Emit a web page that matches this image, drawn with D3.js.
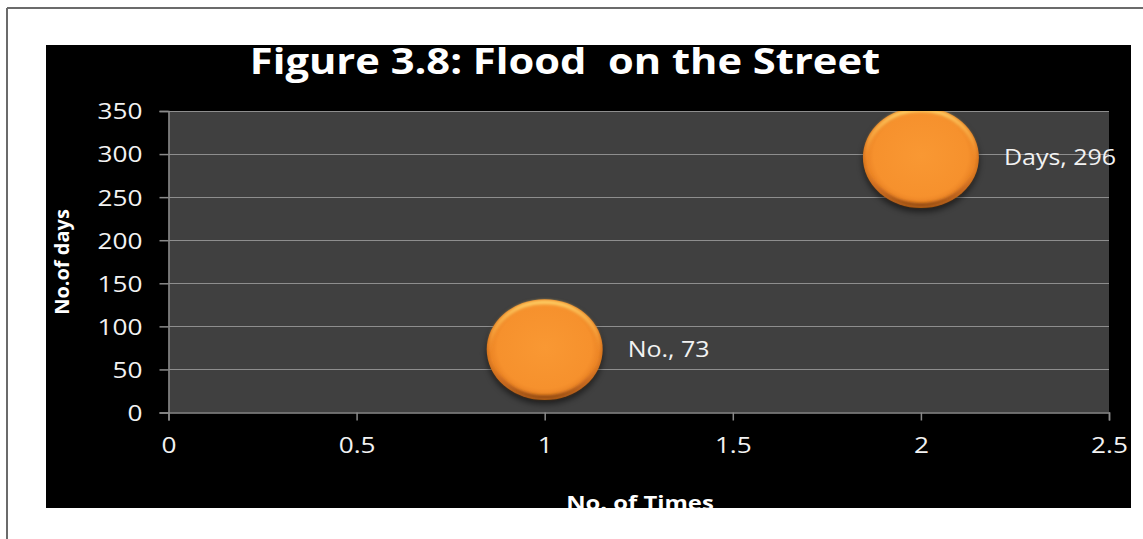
<!DOCTYPE html>
<html>
<head>
<meta charset="utf-8">
<script src="https://cdn.jsdelivr.net/npm/d3@7"></script>
<style>
  html, body { margin: 0; padding: 0; background: #ffffff; }
  svg { display: block; }
  text { white-space: pre; }
</style>
</head>
<body>
<svg id="chart" width="1143" height="539"></svg>
<script>
// Bubble series: x position, y value, bubble size, series name
const seriesNames = ["No.", "Days"];
const xValues = [1, 2];
const yValues = [73, 296];
const bubbleSizes = [1, 1];

const xTicks = [0, 0.5, 1, 1.5, 2, 2.5];
const yTicks = [0, 50, 100, 150, 200, 250, 300, 350];

const titleText = "Figure 3.8: Flood  on the Street";
const xTitle = "No. of Times";
const yTitle = "No.of days";

const svg = d3.select("#chart");
const W = 1143, H = 539;

// page frame
svg.append("line").attr("x1", 7).attr("y1", 8).attr("x2", W).attr("y2", 8)
  .attr("stroke", "#6b6b6b").attr("stroke-width", 2);
svg.append("line").attr("x1", 7).attr("y1", 8).attr("x2", 7).attr("y2", H)
  .attr("stroke", "#6b6b6b").attr("stroke-width", 2);

// chart area
const area = { x: 46, y: 45, w: 1085, h: 463 };
const defs = svg.append("defs");
defs.append("clipPath").attr("id", "areaClip")
  .append("rect").attr("x", area.x).attr("y", area.y).attr("width", area.w).attr("height", area.h);

const chart = svg.append("g").attr("clip-path", "url(#areaClip)");
chart.append("rect").attr("x", area.x).attr("y", area.y)
  .attr("width", area.w).attr("height", area.h).attr("fill", "#000000");

const plot = { left: 168.5, right: 1109, top: 111, bottom: 412.5 };

const x = d3.scaleLinear().domain([0, 2.5]).range([plot.left, plot.right]);
const y = d3.scaleLinear().domain([0, 350]).range([plot.bottom, plot.top]);
const r = d3.scaleSqrt().domain([0, 1]).range([0, 58]);
const ryRatio = 0.87;

// wide text: glyphs are drawn stretched horizontally
const widen = 1.19;
function stretch(sel) {
  sel.each(function () {
    const len = this.getComputedTextLength();
    d3.select(this).attr("textLength", len * widen).attr("lengthAdjust", "spacingAndGlyphs");
  });
}

// plot background
chart.append("rect").attr("x", plot.left).attr("y", plot.top)
  .attr("width", plot.right - plot.left).attr("height", plot.bottom - plot.top)
  .attr("fill", "#404040");

// horizontal gridlines
chart.append("g").selectAll("line").data(yTicks.filter(d => d > 0)).join("line")
  .attr("x1", plot.left).attr("x2", plot.right)
  .attr("y1", d => Math.round(y(d)) + 0.5).attr("y2", d => Math.round(y(d)) + 0.5)
  .attr("stroke", "#8e8e8e").attr("stroke-width", 1);

// axes
const axisColor = "#8a8a8a";
const labelFont = "'Open Sans', 'DejaVu Sans', sans-serif";

const yAxis = chart.append("g").attr("transform", `translate(${plot.left},0)`)
  .call(d3.axisLeft(y).tickValues(yTicks).tickSize(9).tickPadding(17).tickFormat(d3.format("d")));
const xAxis = chart.append("g").attr("transform", `translate(0,${plot.bottom})`)
  .call(d3.axisBottom(x).tickValues(xTicks).tickSize(8).tickPadding(17).tickFormat(d => String(d)));

[yAxis, xAxis].forEach(a => {
  a.select(".domain").attr("stroke", axisColor).attr("stroke-width", 1.5);
  a.selectAll(".tick line").attr("stroke", axisColor).attr("stroke-width", 1.5);
  a.selectAll(".tick text").attr("fill", "#f2f2f2")
    .style("font-family", labelFont).style("font-size", "22px");
});
yAxis.selectAll(".tick text").attr("dy", "0.36em").call(stretch);
xAxis.selectAll(".tick text").attr("dy", "0.72em").call(stretch);

// bubble shading
const body = defs.append("radialGradient").attr("id", "bubbleBody")
  .attr("cx", "50%").attr("cy", "48%").attr("r", "52%");
[["0%", "#f99833"], ["78%", "#f6912d"], ["90%", "#ec8526"], ["97%", "#cf6f1c"], ["100%", "#a85717"]]
  .forEach(([o, c]) => body.append("stop").attr("offset", o).attr("stop-color", c));

const rim = defs.append("linearGradient").attr("id", "bubbleRim")
  .attr("x1", 0).attr("y1", 0).attr("x2", 0).attr("y2", 1);
[["0%", "#ffd166", 1], ["30%", "#fbb046", 0.7], ["55%", "#f6912d", 0], ["80%", "#c2641b", 0.6], ["100%", "#8a4512", 0.9]]
  .forEach(([o, c, a]) => rim.append("stop").attr("offset", o).attr("stop-color", c).attr("stop-opacity", a));

defs.append("filter").attr("id", "soft").append("feGaussianBlur").attr("stdDeviation", 1.6);
defs.append("filter").attr("id", "shadow").attr("x", "-30%").attr("y", "-30%").attr("width", "160%").attr("height", "160%")
  .append("feGaussianBlur").attr("stdDeviation", 3);

defs.append("clipPath").attr("id", "plotClip")
  .append("rect").attr("x", plot.left).attr("y", plot.top)
  .attr("width", plot.right - plot.left).attr("height", plot.bottom - plot.top);

const points = xValues.map((xv, i) => ({ x: xv, y: yValues[i], s: bubbleSizes[i], name: seriesNames[i] }));

const bubbles = chart.append("g").attr("clip-path", "url(#plotClip)")
  .selectAll("g").data(points).join("g")
  .attr("transform", d => `translate(${x(d.x)},${y(d.y)})`);

bubbles.append("ellipse").attr("cx", 0).attr("cy", 4)
  .attr("rx", d => r(d.s)).attr("ry", d => r(d.s) * ryRatio)
  .attr("fill", "#000").attr("opacity", 0.55).attr("filter", "url(#shadow)");
bubbles.append("ellipse")
  .attr("rx", d => r(d.s)).attr("ry", d => r(d.s) * ryRatio)
  .attr("fill", "url(#bubbleBody)");
bubbles.append("ellipse")
  .attr("rx", d => r(d.s) - 3).attr("ry", d => r(d.s) * ryRatio - 3)
  .attr("fill", "none").attr("stroke", "url(#bubbleRim)").attr("stroke-width", 4)
  .attr("filter", "url(#soft)");

// data labels: series name and value
chart.append("g").selectAll("text").data(points).join("text")
  .attr("x", d => x(d.x) + r(d.s) + 25)
  .attr("y", d => y(d.y))
  .attr("dy", "0.36em")
  .attr("fill", "#f2f2f2")
  .style("font-family", labelFont).style("font-size", "21px")
  .text(d => `${d.name}, ${d.y}`)
  .call(stretch);

// titles
chart.append("text").attr("x", 565).attr("y", 74)
  .attr("text-anchor", "middle").attr("fill", "#ffffff")
  .style("font-family", labelFont).style("font-weight", "bold").style("font-size", "35px")
  .text(titleText)
  .call(stretch);

chart.append("text").attr("x", 640).attr("y", 510)
  .attr("text-anchor", "middle").attr("fill", "#ffffff")
  .style("font-family", labelFont).style("font-weight", "bold").style("font-size", "20px")
  .text(xTitle)
  .call(stretch);

chart.append("text")
  .attr("transform", `translate(69,262) rotate(-90)`)
  .attr("text-anchor", "middle").attr("fill", "#ffffff")
  .style("font-family", labelFont).style("font-weight", "bold").style("font-size", "20px")
  .text(yTitle);
</script>
</body>
</html>
